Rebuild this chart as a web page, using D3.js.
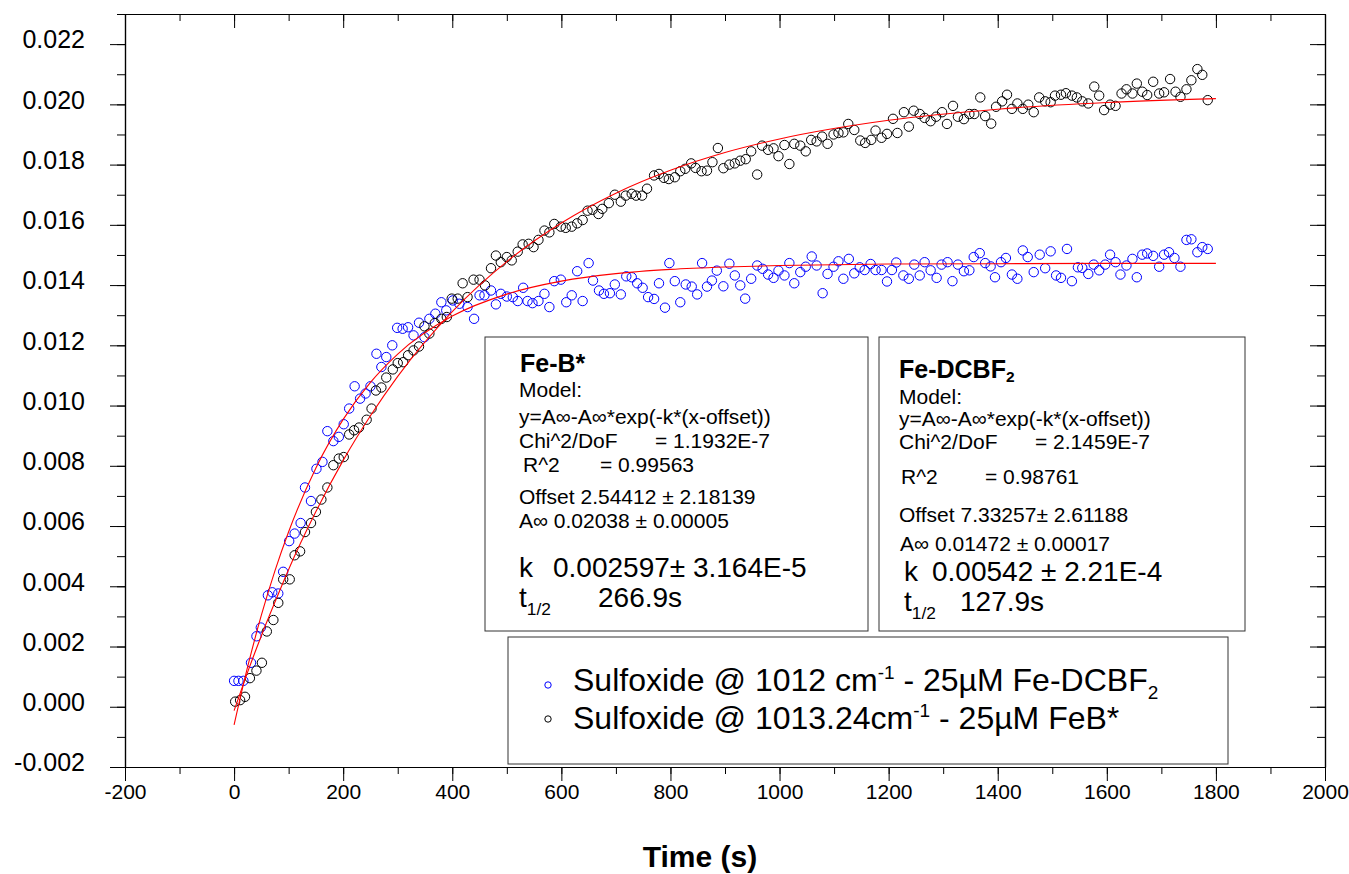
<!DOCTYPE html>
<html>
<head>
<meta charset="utf-8">
<script src="https://cdn.jsdelivr.net/npm/d3@7"></script>
<style>
body { margin: 0; background: #fff; }
svg text { font-family: "Liberation Sans", Arial, sans-serif; fill: #000; }
</style>
</head>
<body>
<svg id="chart" width="1349" height="874"></svg>
<script>
// Sulfoxide @ 1013.24 cm-1, 25uM FeB*  -> [time (s), absorbance]
var blackPts = [[2,0.00017],[11,0.00022],[20,0.00033],[29,0.00095],[41,0.0012],[51,0.00146],[60,0.0025],[72,0.00288],[81,0.00345],[90,0.00423],
  [102,0.00423],[111,0.00503],[121,0.00516],[130,0.0058],[141,0.0061],[150,0.00647],[160,0.00688],[171,0.00728],[182,0.00802],[192,0.00824],
  [201,0.00829],[211,0.00904],[220,0.00918],[229,0.00927],[243,0.00953],[252,0.0099],[260,0.0105],[270,0.0106],[279,0.01093],[291,0.0112],
  [300,0.01141],[310,0.01144],[319,0.01167],[329,0.01183],[339,0.01196],[349,0.01263],[358,0.01239],[368,0.01274],[380,0.01288],[390,0.01294],
  [399,0.01355],[410,0.01355],[419,0.01406],[428,0.0136],[439,0.01418],[450,0.01418],[460,0.01399],[471,0.01456],[480,0.01498],[489,0.01476],
  [500,0.01493],[509,0.01482],[520,0.01511],[529,0.01535],[540,0.01537],[549,0.01526],[558,0.0155],[569,0.01581],[578,0.01575],[587,0.01603],
  [599,0.01594],[608,0.0159],[619,0.01594],[629,0.01605],[639,0.01616],[648,0.01647],[657,0.0165],[668,0.01636],[675,0.01653],[687,0.01672],
  [698,0.017],[709,0.01677],[718,0.01697],[729,0.01703],[737,0.01697],[748,0.01697],[757,0.0172],[770,0.01764],[779,0.01769],[788,0.01756],
  [797,0.01752],[808,0.01758],[818,0.01778],[827,0.01786],[838,0.01804],[846,0.01789],[857,0.01778],[867,0.0178],[877,0.01808],[887,0.01855],
  [897,0.01788],[908,0.018],[918,0.01804],[928,0.01813],[938,0.01818],[948,0.01844],[959,0.01767],[968,0.01863],[979,0.01849],[989,0.01854],
  [998,0.01828],[1009,0.01865],[1018,0.01802],[1027,0.01869],[1038,0.01863],[1048,0.01844],[1058,0.01882],[1068,0.01877],[1078,0.01893],[1088,0.01869],
  [1099,0.019],[1108,0.01905],[1117,0.01907],[1126,0.01935],[1137,0.01915],[1148,0.0188],[1157,0.01872],[1168,0.01882],[1176,0.01913],[1187,0.01889],
  [1197,0.01902],[1208,0.01952],[1216,0.01905],[1228,0.01974],[1237,0.01926],[1246,0.01979],[1257,0.01968],[1266,0.01955],[1277,0.01944],[1287,0.01959],
  [1298,0.01974],[1307,0.01935],[1318,0.01995],[1327,0.01959],[1338,0.01951],[1348,0.01968],[1357,0.01968],[1368,0.02023],[1377,0.01961],[1388,0.01936],
  [1397,0.01992],[1408,0.0201],[1417,0.02032],[1426,0.01985],[1436,0.02003],[1446,0.01985],[1456,0.01999],[1466,0.01974],[1476,0.02023],[1487,0.0201],
  [1497,0.02007],[1505,0.02029],[1516,0.02032],[1525,0.02037],[1536,0.02029],[1545,0.02023],[1555,0.0201],[1566,0.02003],[1577,0.02059],[1586,0.02029],
  [1595,0.01981],[1606,0.01999],[1616,0.01995],[1627,0.02036],[1636,0.0205],[1647,0.02036],[1655,0.02069],[1665,0.02042],[1674,0.02031],[1685,0.02075],
  [1696,0.02036],[1705,0.0204],[1716,0.02084],[1726,0.02042],[1735,0.02025],[1746,0.0205],[1755,0.0208],[1766,0.02117],[1775,0.02098],[1785,0.02014]];

// Sulfoxide @ 1012 cm-1, 25uM Fe-DCBF2
var bluePts = [[0,0.00086],[8,0.00086],[17,0.00086],[31,0.00146],[41,0.00234],[49,0.00263],[62,0.0037],[70,0.0038],[81,0.00376],[90,0.00448],
  [101,0.0055],[111,0.00575],[122,0.0061],[130,0.00728],[141,0.00683],[151,0.0079],[162,0.00813],[171,0.00915],[182,0.00882],[192,0.00896],
  [201,0.00938],[211,0.0099],[221,0.01064],[231,0.01023],[241,0.0104],[250,0.01064],[261,0.01172],[270,0.01128],[279,0.01161],[290,0.012],
  [299,0.01258],[309,0.01255],[319,0.0126],[329,0.01233],[339,0.01275],[349,0.01227],[358,0.01288],[369,0.01305],[380,0.01343],[389,0.01316],
  [401,0.01349],[413,0.01338],[428,0.01327],[440,0.01288],[450,0.01366],[459,0.01366],[471,0.01382],[480,0.01336],[489,0.01371],[500,0.01362],
  [511,0.0136],[520,0.01347],[530,0.01391],[538,0.01347],[547,0.0134],[558,0.01347],[569,0.01371],[578,0.01327],[587,0.01413],[599,0.01418],
  [609,0.01343],[619,0.01366],[629,0.01446],[639,0.01347],[650,0.01473],[658,0.01415],[669,0.01382],[678,0.01371],[689,0.01373],[698,0.01402],
  [709,0.01369],[719,0.01429],[729,0.01426],[739,0.01406],[749,0.01391],[759,0.0136],[770,0.01354],[779,0.01406],[790,0.01325],[798,0.01473],
  [808,0.01413],[818,0.01343],[828,0.01402],[839,0.01395],[849,0.01369],[858,0.01473],[867,0.01395],[876,0.01415],[885,0.01448],[897,0.01396],
  [908,0.01471],[918,0.01432],[928,0.01399],[937,0.01355],[948,0.01421],[959,0.01465],[969,0.01454],[979,0.01435],[989,0.01424],[998,0.01448],
  [1009,0.01432],[1018,0.01473],[1027,0.01406],[1038,0.01443],[1048,0.01461],[1059,0.01495],[1068,0.01465],[1079,0.01373],[1088,0.01437],[1099,0.01461],
  [1108,0.01479],[1117,0.01421],[1127,0.01487],[1137,0.01439],[1147,0.01459],[1156,0.0145],[1167,0.0147],[1176,0.0145],[1187,0.0145],[1197,0.01412],
  [1206,0.0145],[1214,0.01475],[1227,0.01432],[1237,0.01421],[1247,0.01468],[1257,0.01432],[1266,0.01476],[1277,0.01449],[1288,0.01424],[1297,0.01468],
  [1308,0.01476],[1317,0.01413],[1327,0.01468],[1338,0.01446],[1348,0.01449],[1356,0.01493],[1367,0.01506],[1377,0.01473],[1387,0.01462],[1395,0.01426],
  [1406,0.01476],[1415,0.0149],[1426,0.01435],[1436,0.01421],[1446,0.01515],[1455,0.01493],[1466,0.01443],[1477,0.01501],[1487,0.01456],[1497,0.01512],
  [1507,0.01432],[1516,0.01424],[1527,0.0152],[1536,0.01413],[1547,0.01459],[1555,0.01457],[1566,0.01437],[1576,0.01468],[1586,0.01449],[1597,0.01468],
  [1606,0.01501],[1616,0.01476],[1625,0.01435],[1636,0.01465],[1647,0.01487],[1655,0.01426],[1665,0.01501],[1674,0.01505],[1685,0.01497],[1696,0.01461],
  [1705,0.01501],[1714,0.01509],[1724,0.0149],[1735,0.01461],[1746,0.0155],[1755,0.01552],[1766,0.01509],[1775,0.01526],[1785,0.0152]];

// red fit curves
var fitTimes = [0, 25, 50, 75, 100, 150, 200, 250, 300, 400, 500, 600, 700, 800, 900, 1000, 1200, 1400, 1600, 1800];
var fitBlack = [-0.00013, 0.00116, 0.00236, 0.00348, 0.00456, 0.00648, 0.00818, 0.00966, 0.01097, 0.01312, 0.01478, 0.01606, 0.01705, 0.01781, 0.0184, 0.01885, 0.01947, 0.01984, 0.02006, 0.02019];
var fitBlue = [-0.0006, 0.00134, 0.00304, 0.00452, 0.00581, 0.00793, 0.00954, 0.01077, 0.01171, 0.01297, 0.0137, 0.01413, 0.01438, 0.01452, 0.0146, 0.01465, 0.0147, 0.01471, 0.01472, 0.01472];

var xTicks = [-200, 0, 200, 400, 600, 800, 1000, 1200, 1400, 1600, 1800, 2000];
var yTicks = [-0.002, 0, 0.002, 0.004, 0.006, 0.008, 0.010, 0.012, 0.014, 0.016, 0.018, 0.020, 0.022];

var svg = d3.select("#chart");
var x = d3.scaleLinear().domain([-200, 2000]).range([125, 1325]);
var y = d3.scaleLinear().domain([-0.002, 0.023]).range([767, 14]);

var xMinor = d3.range(-200, 2001, 100);
var yMinor = d3.range(-0.002, 0.0231, 0.001);
var fmtY = d => d3.format(".3f")(d).replace("\u2212", "-");
var fmtX = d => String(d);

//frame with ticks on every side
function styleAxis(g) {
    g.selectAll("path").attr("stroke", "#000").attr("stroke-width", 1.2);
    g.selectAll("line").attr("stroke", "#000").attr("stroke-width", 1);
}
svg.append("g").attr("transform", "translate(0,767)")
    .call(d3.axisBottom(x).tickValues(xMinor).tickSize(7).tickFormat("").tickSizeOuter(0)).call(styleAxis);
svg.append("g").attr("transform", "translate(0,767)")
    .call(d3.axisBottom(x).tickValues(xTicks).tickSize(14).tickSizeOuter(0).tickFormat(fmtX))
    .call(styleAxis)
    .call(g => g.selectAll("text").attr("font-size", 21).attr("y", 17).attr("dy", "0.71em").attr("fill", "#000"));
svg.append("g").attr("transform", "translate(0,14)")
    .call(d3.axisBottom(x).tickValues(xMinor).tickSize(7).tickFormat("").tickSizeOuter(0)).call(styleAxis);
svg.append("g").attr("transform", "translate(0,14)")
    .call(d3.axisBottom(x).tickValues(xTicks).tickSize(14).tickFormat("").tickSizeOuter(0)).call(styleAxis);

svg.append("g").attr("transform", "translate(125,0)")
    .call(d3.axisLeft(y).tickValues(yMinor).tickSize(8).tickFormat("").tickSizeOuter(0)).call(styleAxis);
svg.append("g").attr("transform", "translate(125,0)")
    .call(d3.axisLeft(y).tickValues(yTicks).tickSize(15).tickSizeOuter(0).tickFormat(fmtY))
    .call(styleAxis)
    .call(g => g.selectAll("text").attr("font-size", 25).attr("x", -40).attr("dy", "0.15em").attr("fill", "#000"));
svg.append("g").attr("transform", "translate(1325,0)")
    .call(d3.axisLeft(y).tickValues(yMinor).tickSize(8).tickFormat("").tickSizeOuter(0)).call(styleAxis);
svg.append("g").attr("transform", "translate(1325,0)")
    .call(d3.axisLeft(y).tickValues(yTicks).tickSize(15).tickFormat("").tickSizeOuter(0)).call(styleAxis);

svg.append("text").attr("x", 700).attr("y", 867).attr("text-anchor", "middle")
    .attr("font-size", 30).attr("font-weight", "bold").text("Time (s)");

//data points
svg.append("g").selectAll("circle").data(bluePts).join("circle")
    .attr("cx", d => x(d[0])).attr("cy", d => y(d[1])).attr("r", 4.7)
    .attr("fill", "none").attr("stroke", "#0000ff").attr("stroke-width", 1);
svg.append("g").selectAll("circle").data(blackPts).join("circle")
    .attr("cx", d => x(d[0])).attr("cy", d => y(d[1])).attr("r", 4.7)
    .attr("fill", "none").attr("stroke", "#000").attr("stroke-width", 1);

var fitLine = d3.line().x((d, i) => x(fitTimes[i])).y(d => y(d)).curve(d3.curveMonotoneX);
[fitBlack, fitBlue].forEach(function(vals) {
    svg.append("path").datum(vals).attr("d", fitLine)
        .attr("fill", "none").attr("stroke", "#ff0000").attr("stroke-width", 1.1);
});

//fit parameter boxes
function statBox(x0, y0, w, h, rows) {
    svg.append("rect").attr("x", x0).attr("y", y0).attr("width", w).attr("height", h)
        .attr("fill", "#fff").attr("stroke", "#333").attr("stroke-width", 1);
    rows.forEach(function(r) {
        var t = svg.append("text").attr("x", r.x).attr("y", r.y).attr("font-size", r.size)
            .attr("font-weight", r.bold ? "bold" : null).attr("dy", "0.35em").text(r.text);
        if (r.sub) t.append("tspan").attr("font-size", r.size * 0.62).attr("dy", r.subDy || "0.45em").text(r.sub);
    });
}

statBox(485, 337, 383, 294, [
    {x: 520, y: 363, size: 25, bold: true, text: "Fe-B*"},
    {x: 519, y: 390, size: 21, text: "Model:"},
    {x: 519, y: 417, size: 21, text: "y=A\u221e-A\u221e*exp(-k*(x-offset))"},
    {x: 519, y: 441, size: 21, text: "Chi^2/DoF"},
    {x: 655, y: 441, size: 21, text: "= 1.1932E-7"},
    {x: 523, y: 465, size: 21, text: "R^2"},
    {x: 600, y: 465, size: 21, text: "=  0.99563"},
    {x: 519, y: 497, size: 21, text: "Offset 2.54412 \u00b1 2.18139"},
    {x: 519, y: 521, size: 21, text: "A\u221e 0.02038 \u00b1 0.00005"},
    {x: 519, y: 567, size: 28, text: "k"},
    {x: 553, y: 567, size: 28, text: "0.002597\u00b1 3.164E-5"},
    {x: 519, y: 597, size: 28, text: "t", sub: "1/2"},
    {x: 598, y: 597, size: 28, text: "266.9s"}
]);

statBox(879, 337, 366, 294, [
    {x: 899, y: 369, size: 25, bold: true, text: "Fe-DCBF", sub: "2", subDy: "0.3em"},
    {x: 899, y: 397, size: 21, text: "Model:"},
    {x: 899, y: 419, size: 21, text: "y=A\u221e-A\u221e*exp(-k*(x-offset))"},
    {x: 899, y: 442, size: 21, text: "Chi^2/DoF"},
    {x: 1035, y: 442, size: 21, text: "= 2.1459E-7"},
    {x: 901, y: 477, size: 21, text: "R^2"},
    {x: 985, y: 477, size: 21, text: "=  0.98761"},
    {x: 899, y: 515, size: 21, text: "Offset 7.33257\u00b1 2.61188"},
    {x: 900, y: 544, size: 21, text: "A\u221e"},
    {x: 935, y: 544, size: 21, text: "0.01472 \u00b1 0.00017"},
    {x: 904, y: 571, size: 28, text: "k"},
    {x: 932, y: 571, size: 28, text: "0.00542 \u00b1 2.21E-4"},
    {x: 904, y: 601, size: 28, text: "t", sub: "1/2"},
    {x: 960, y: 601, size: 28, text: "127.9s"}
]);

//legend
svg.append("rect").attr("x", 508).attr("y", 637).attr("width", 720).attr("height", 127)
    .attr("fill", "#fff").attr("stroke", "#333").attr("stroke-width", 1);
svg.append("circle").attr("cx", 548).attr("cy", 685).attr("r", 3.2)
    .attr("fill", "none").attr("stroke", "#0000ff");
svg.append("circle").attr("cx", 548).attr("cy", 719).attr("r", 3.2)
    .attr("fill", "none").attr("stroke", "#000");

var leg1 = svg.append("text").attr("x", 573).attr("y", 691).attr("font-size", 32);
leg1.append("tspan").text("Sulfoxide @ 1012 cm");
leg1.append("tspan").attr("font-size", 19).attr("dy", -12).text("-1");
leg1.append("tspan").attr("dy", 12).text(" - 25\u00b5M Fe-DCBF");
leg1.append("tspan").attr("font-size", 19).attr("dy", 8).text("2");

var leg2 = svg.append("text").attr("x", 573).attr("y", 729).attr("font-size", 32);
leg2.append("tspan").text("Sulfoxide @ 1013.24cm");
leg2.append("tspan").attr("font-size", 19).attr("dy", -12).text("-1");
leg2.append("tspan").attr("dy", 12).text(" - 25\u00b5M FeB*");
</script>
</body>
</html>
